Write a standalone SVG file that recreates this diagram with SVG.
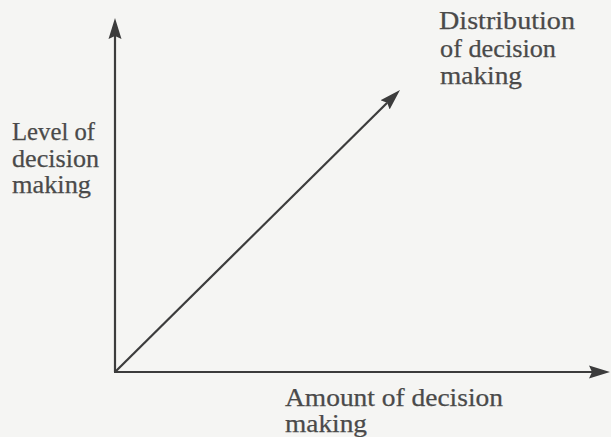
<svg xmlns="http://www.w3.org/2000/svg" width="611" height="437" viewBox="0 0 611 437">
  <style>
    .axis { stroke: #3c3c3c; stroke-width: 2.2; fill: none; }
    .label { font-family: "Liberation Serif", "Times New Roman", serif; font-size: 25px; fill: #4a4a4a; stroke: #4a4a4a; stroke-width: 0.25; }
  </style>
  <defs>
    <marker id="arrow" markerUnits="userSpaceOnUse" markerWidth="24" markerHeight="16" viewBox="0 -8 24 16" refX="3" refY="0" orient="auto">
      <path d="M0,-6.5 L21,0 L0,6.5 L3,0 Z" fill="#3c3c3c"/>
    </marker>
  </defs>

  <rect width="611" height="437" fill="#f5f5f3"/>

  <!-- axes and the rising distribution line -->
  <g id="connectors">
    <line class="axis" x1="115" y1="372" x2="115" y2="36" marker-end="url(#arrow)"/>
    <line class="axis" x1="114" y1="372" x2="592" y2="372" marker-end="url(#arrow)"/>
    <line class="axis" x1="115" y1="372" x2="387.2" y2="102.7" marker-end="url(#arrow)"/>
  </g>

  <g id="y-axis-label">
    <text class="label" x="12" y="140" textLength="83" lengthAdjust="spacingAndGlyphs">Level of</text>
    <text class="label" x="12" y="167" textLength="87" lengthAdjust="spacingAndGlyphs">decision</text>
    <text class="label" x="12" y="193" textLength="79" lengthAdjust="spacingAndGlyphs">making</text>
  </g>

  <g id="distribution-label">
    <text class="label" x="439" y="29" textLength="136" lengthAdjust="spacingAndGlyphs">Distribution</text>
    <text class="label" x="440" y="57" textLength="116" lengthAdjust="spacingAndGlyphs">of decision</text>
    <text class="label" x="440" y="84" textLength="82" lengthAdjust="spacingAndGlyphs">making</text>
  </g>

  <g id="x-axis-label">
    <text class="label" x="285" y="406" textLength="218" lengthAdjust="spacingAndGlyphs">Amount of decision</text>
    <text class="label" x="285" y="432" textLength="82" lengthAdjust="spacingAndGlyphs">making</text>
  </g>
</svg>
